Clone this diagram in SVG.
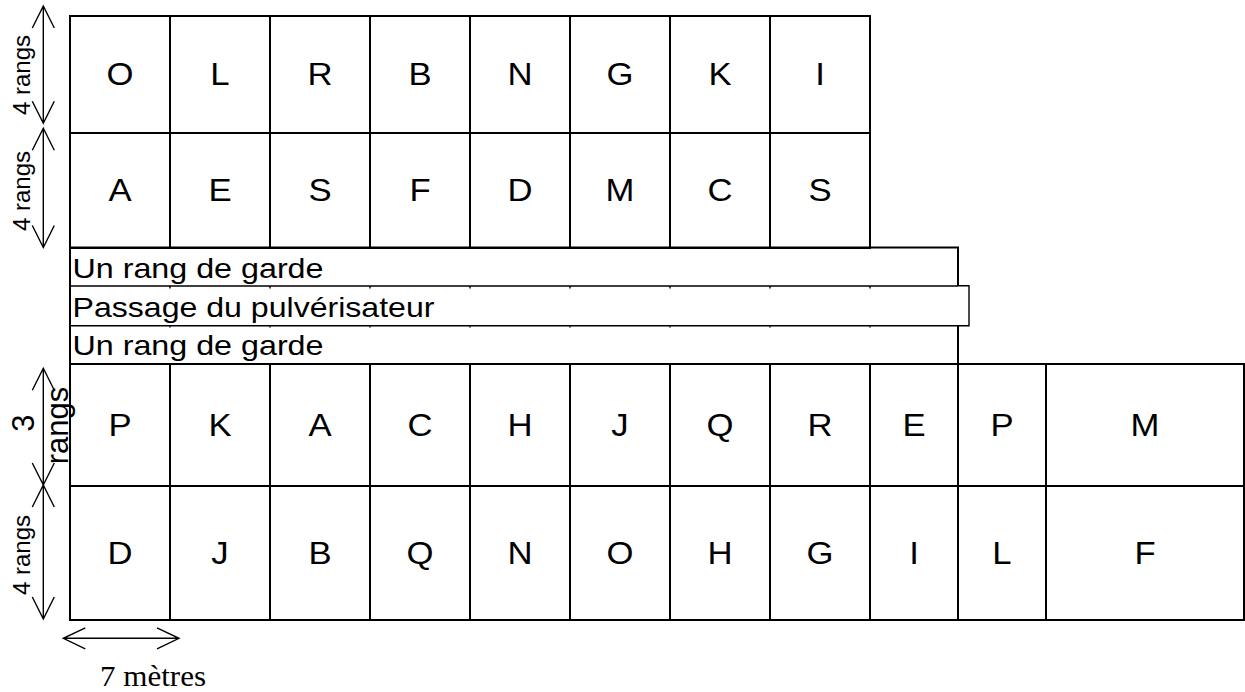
<svg xmlns="http://www.w3.org/2000/svg" width="1245" height="692" viewBox="0 0 1245 692">
<style>
.g{fill:none;stroke:#000;stroke-width:2}
.b{fill:none;stroke:#000;stroke-width:1.4}
.a{fill:none;stroke:#000;stroke-width:1.4}
.c{font-family:"Liberation Sans",Arial,sans-serif;font-size:31px;text-anchor:middle;fill:#000}
.t{font-family:"Liberation Sans",Arial,sans-serif;font-size:28.5px;fill:#000}
.r{font-family:"Liberation Sans",Arial,sans-serif;font-size:24px;text-anchor:middle;fill:#000}
.r3{font-family:"Liberation Sans",Arial,sans-serif;font-size:31px;text-anchor:middle;fill:#000}
.m{font-family:"Liberation Serif","Times New Roman",serif;font-size:30px;fill:#000}
</style>
<rect width="1245" height="692" fill="#fff"/>

<g id="top-grid">
<rect class="g" x="70" y="16" width="800" height="232"/>
<path class="g" d="M170 16V248M270 16V248M370 16V248M470 16V248M570 16V248M670 16V248M770 16V248M70 133H870"/>
</g>
<g id="top-cells" transform="scale(1.12 1)">
<text class="c" x="107.14" y="85.5">O</text><text class="c" x="196.43" y="85.5">L</text><text class="c" x="285.71" y="85.5">R</text><text class="c" x="375" y="85.5">B</text><text class="c" x="464.29" y="85.5">N</text><text class="c" x="553.57" y="85.5">G</text><text class="c" x="642.86" y="85.5">K</text><text class="c" x="732.14" y="85.5">I</text>
<text class="c" x="107.14" y="201.5">A</text><text class="c" x="196.43" y="201.5">E</text><text class="c" x="285.71" y="201.5">S</text><text class="c" x="375" y="201.5">F</text><text class="c" x="464.29" y="201.5">D</text><text class="c" x="553.57" y="201.5">M</text><text class="c" x="642.86" y="201.5">C</text><text class="c" x="732.14" y="201.5">S</text>
</g>

<g id="band-garde-1">
<path class="g" d="M70 247.5H958V286"/>
<text class="t" x="72.5" y="277.5" textLength="251" lengthAdjust="spacingAndGlyphs">Un rang de garde</text>
</g>
<g id="band-passage">
<path class="b" d="M70 286H958M958 285.7H969V325.7H958M70 325.7H958"/>
<path class="b" d="M170 286V288.5M270 286V288.5M370 286V288.5M470 286V288.5M570 286V288.5M670 286V288.5M770 286V288.5M870 286V288.5M170 325V327.5M270 325V327.5M370 325V327.5M470 325V327.5M570 325V327.5M670 325V327.5M770 325V327.5M870 325V327.5"/>
<text class="t" x="72.5" y="317" textLength="362" lengthAdjust="spacingAndGlyphs">Passage du pulvérisateur</text>
</g>
<g id="band-garde-2">
<path class="g" d="M958 325V364"/>
<text class="t" x="72.5" y="355" textLength="251" lengthAdjust="spacingAndGlyphs">Un rang de garde</text>
</g>

<g id="bottom-grid">
<rect class="g" x="70" y="364" width="1174" height="256"/>
<path class="g" d="M70 16V620M170 364V620M270 364V620M370 364V620M470 364V620M570 364V620M670 364V620M770 364V620M870 364V620M958 364V620M1046 364V620M70 486H1244"/>
</g>
<g id="bottom-cells" transform="scale(1.12 1)">
<text class="c" x="107.14" y="436">P</text><text class="c" x="196.43" y="436">K</text><text class="c" x="285.71" y="436">A</text><text class="c" x="375" y="436">C</text><text class="c" x="464.29" y="436">H</text><text class="c" x="553.57" y="436">J</text><text class="c" x="642.86" y="436">Q</text><text class="c" x="732.14" y="436">R</text><text class="c" x="816.07" y="436">E</text><text class="c" x="894.64" y="436">P</text><text class="c" x="1022.32" y="436">M</text>
<text class="c" x="107.14" y="564">D</text><text class="c" x="196.43" y="564">J</text><text class="c" x="285.71" y="564">B</text><text class="c" x="375" y="564">Q</text><text class="c" x="464.29" y="564">N</text><text class="c" x="553.57" y="564">O</text><text class="c" x="642.86" y="564">H</text><text class="c" x="732.14" y="564">G</text><text class="c" x="816.07" y="564">I</text><text class="c" x="894.64" y="564">L</text><text class="c" x="1022.32" y="564">F</text>
</g>

<g id="connectors">
<path class="a" d="M43.3 6V123.3M32.3 28L43.3 6L54.3 28M32.3 101.3L43.3 123.3L54.3 101.3"/>
<path class="a" d="M43.3 128.3V247.5M32.3 150.3L43.3 128.3L54.3 150.3M32.3 225.5L43.3 247.5L54.3 225.5"/>
<path class="a" d="M43.3 368.3V485M32.3 390.3L43.3 368.3L54.3 390.3M32.3 463L43.3 485L54.3 463"/>
<path class="a" d="M43.3 485V619M32.3 507L43.3 485L54.3 507M32.3 597L43.3 619L54.3 597"/>
<path class="a" d="M63.3 638.3H179M85.3 627.8L63.3 638.3L85.3 648.8M157 627.8L179 638.3L157 648.8"/>
</g>

<g id="labels">
<text class="r" transform="translate(29.5 75) rotate(-90)">4 rangs</text>
<text class="r" transform="translate(29.5 191) rotate(-90)">4 rangs</text>
<text class="r3" transform="translate(34 423) rotate(-90)">3</text>
<text class="r3" transform="translate(68 425.5) rotate(-90)">rangs</text>
<text class="r" transform="translate(29.5 555) rotate(-90)">4 rangs</text>
<text class="m" x="100" y="686" textLength="106" lengthAdjust="spacingAndGlyphs">7 mètres</text>
</g>
</svg>
